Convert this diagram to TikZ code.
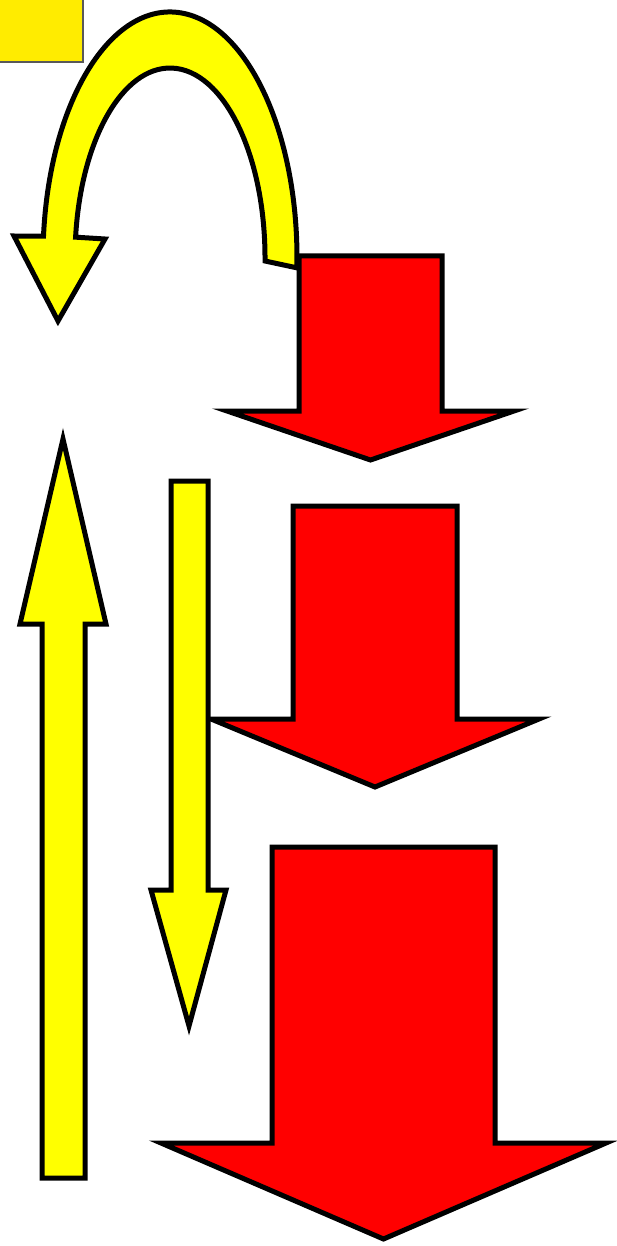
\documentclass[tikz,border=0pt]{standalone}
\begin{document}
\begin{tikzpicture}[x=1pt,y=1pt,
  redarrow/.style={draw=black,fill={rgb,255:red,255;green,0;blue,0},line width=5pt,line join=miter},
  yelarrow/.style={draw=black,fill={rgb,255:red,255;green,255;blue,0},line width=5pt,line join=miter},
  corner/.style={draw=black!65,fill={rgb,255:red,255;green,236;blue,0},line width=1.2pt}]
\useasboundingbox (0,0) rectangle (617,-1246);
% top-left square
\path[corner] (-5,5) rectangle (83,-62);
% curved arrow
\path[yelarrow] (14,-236) -- (43.5,-236.1)
  arc[start angle=174.9,end angle=-2.3,x radius=127,y radius=246]
  -- (265,-261)
  arc[start angle=-0.9,end angle=173.7,x radius=95,y radius=190]
  -- (105,-239) -- (58,-321) -- cycle;
% red arrows
\path[redarrow] (299,-256) -- (442,-256) -- (442,-411) -- (514,-411) -- (370.5,-460)
  -- (227,-411) -- (299,-411) -- cycle;
\path[redarrow] (293,-506) -- (457,-506) -- (457,-719) -- (539,-719) -- (375,-787)
  -- (211,-719) -- (293,-719) -- cycle;
\path[redarrow] (272,-847) -- (495,-847) -- (495,-1143) -- (606,-1143) -- (383.5,-1239)
  -- (161,-1143) -- (272,-1143) -- cycle;
% straight yellow arrows
\path[yelarrow] (42,-1178) -- (42,-624) -- (20,-624) -- (63,-439) -- (106,-624)
  -- (85,-624) -- (85,-1178) -- cycle;
\path[yelarrow] (171,-481) -- (208,-481) -- (208,-890) -- (226,-890) -- (189,-1026)
  -- (151,-890) -- (171,-890) -- cycle;
\end{tikzpicture}
\end{document}
